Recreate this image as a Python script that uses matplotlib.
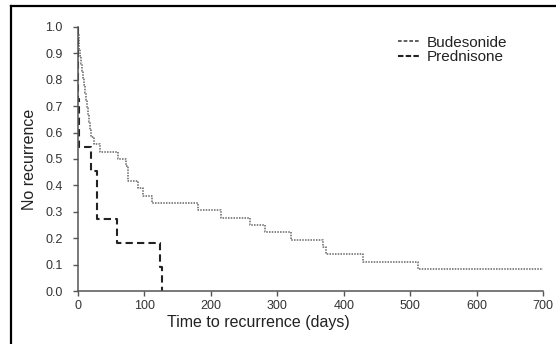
import matplotlib
matplotlib.use("Agg")
import matplotlib.pyplot as plt
from matplotlib.lines import Line2D

# Kaplan-Meier steps: value holds from that day on
bud_days = [0, 0.5, 1, 2, 3, 5, 7, 8, 10, 11, 13, 14, 16, 17, 19, 20, 25, 33,
            60, 73, 75, 90, 98, 111, 181, 216, 259, 281, 321, 369, 374, 429, 512, 700]
bud_surv = [1.0, 0.972, 0.944, 0.917, 0.889, 0.861, 0.833, 0.806, 0.778, 0.75,
            0.722, 0.694, 0.667, 0.639, 0.611, 0.583, 0.556, 0.528, 0.5, 0.472,
            0.417, 0.389, 0.361, 0.333, 0.306, 0.278, 0.25, 0.222, 0.194, 0.167,
            0.139, 0.111, 0.083, 0.083]
pred_days = [0, 0.5, 1.5, 20, 29, 59, 123, 127]
pred_surv = [1.0, 0.727, 0.545, 0.455, 0.273, 0.182, 0.091, 0.0]

x_ticks = [0, 100, 200, 300, 400, 500, 600, 700]
y_ticks = [0.0, 0.1, 0.2, 0.3, 0.4, 0.5, 0.6, 0.7, 0.8, 0.9, 1.0]

plt.rcParams['font.family'] = ['Liberation Sans', 'DejaVu Sans']

fig = plt.figure(figsize=(5.56, 3.44), dpi=100)
ax = fig.add_axes([0.140, 0.154, 0.837, 0.768])

grey = "#555555"
bud_style = dict(color="#666666", linestyle=(0, (1, 0.8)), lw=1.1)
pred_style = dict(color="#222222", linestyle=(0, (3.5, 2)), lw=1.5)
ax.step(bud_days, bud_surv, where="post", **bud_style)
ax.step(pred_days, pred_surv, where="post", **pred_style)

ax.set_xlim(0, 700)
ax.set_ylim(0, 1.0)
ax.set_xticks(x_ticks)
ax.set_yticks(y_ticks)
ax.set_yticklabels([f"{v:.1f}" for v in y_ticks])
for s in ["top", "right"]:
    ax.spines[s].set_visible(False)
for s in ["left", "bottom"]:
    ax.spines[s].set_color(grey)
    ax.spines[s].set_linewidth(1.1)
ax.tick_params(direction="out", length=3.8, width=1, color=grey,
               labelsize=9, labelcolor="#333333")
ax.tick_params(axis="y", pad=7)
ax.tick_params(axis="x", pad=3)
ax.set_xlabel("Time to recurrence (days)", fontsize=11.5, color="#222222")
ax.xaxis.set_label_coords(0.387, -0.09)  # original label sits left of centre
ax.set_ylabel("No recurrence", fontsize=11.5, color="#222222", labelpad=6)

# legend handles drawn as short dashes, like the original
handles = [Line2D([], [], color="#444444", linestyle=(0, (2.2, 1.2)), lw=1.2),
           Line2D([], [], color="#222222", linestyle=(0, (2.6, 1.1)), lw=1.5)]
ax.legend(handles, ["Budesonide", "Prednisone"], loc="upper left",
          bbox_to_anchor=(0.674, 0.99), frameon=False,
          fontsize=11, handlelength=1.4, handletextpad=0.5,
          labelspacing=0.05, borderaxespad=0, labelcolor="#222222")

# black frame on the left and top of the image
fig.add_artist(Line2D([11 / 556, 11 / 556], [0, 1 - 6 / 344], color="black",
                      lw=1.6, transform=fig.transFigure))
fig.add_artist(Line2D([11 / 556, 1], [1 - 6 / 344, 1 - 6 / 344], color="black",
                      lw=1.6, transform=fig.transFigure))

plt.savefig("out.png", dpi=100)
plt.close()
